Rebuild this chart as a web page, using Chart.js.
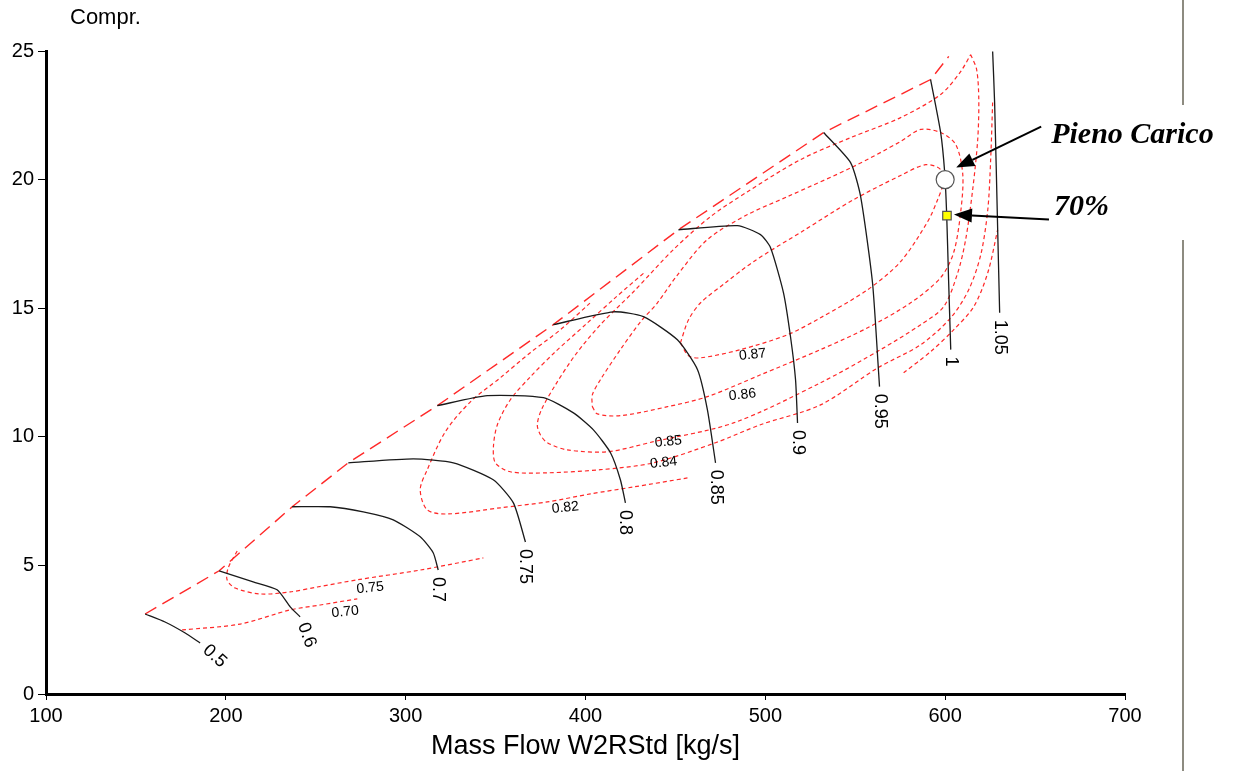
<!DOCTYPE html>
<html>
<head>
<meta charset="utf-8">
<script src="https://cdn.jsdelivr.net/npm/chart.js@4.4.1/dist/chart.umd.min.js"></script>
<style>
  html, body { margin: 0; padding: 0; background: #fff; overflow: hidden; }
  #wrap { position: relative; width: 1242px; height: 771px; }
  canvas { position: absolute; left: 0; top: 0; }
  .rule { position: absolute; left: 1182px; width: 2px; background: #8d8b80; }
</style>
</head>
<body>
<div id="wrap">
  <canvas id="mapChart" width="1242" height="771"></canvas>
  <div class="rule" style="top:0;height:105px"></div>
  <div class="rule" style="top:240px;height:531px"></div>
</div>
<script>
// axis ranges
const massFlowRange = [100, 700];
const comprRange = [0, 25];

// corrected speed lines [mass flow, pressure ratio]
const speedLabels = ['0.5', '0.6', '0.7', '0.75', '0.8', '0.85', '0.9', '0.95', '1', '1.05'];
const speed050 = [[155.1, 3.11], [166.2, 2.80], [177.4, 2.37], [185.7, 1.98]];
const speed060 = [[196.3, 4.79], [215.2, 4.36], [228.5, 4.05], [235.8, 3.39], [241.3, 3.00]];
const speed070 = [[236.9, 7.28], [258.0, 7.28], [276.4, 7.08], [293.1, 6.77], [308.1, 6.11], [315.3, 5.49], [318.1, 4.82]];
const speed075 = [[268.1, 8.99], [304.2, 9.14], [326.5, 8.99], [348.7, 8.33], [359.9, 7.43], [366.6, 5.91]];
const speed080 = [[317.6, 11.21], [345.4, 11.60], [376.6, 11.52], [393.3, 10.93], [404.4, 10.27], [413.9, 9.38], [419.4, 8.33], [422.2, 7.43]];
const speed085 = [[382.1, 14.36], [415.5, 14.86], [432.2, 14.67], [451.1, 13.77], [462.3, 12.61], [467.8, 11.05], [472.3, 8.99]];
const speed090 = [[451.7, 18.05], [484.5, 18.21], [497.3, 17.86], [502.9, 17.35], [510.1, 15.60], [514.0, 13.89], [516.8, 12.22], [517.9, 10.54]];
const speed095 = [[532.4, 21.83], [547.4, 20.66], [553.0, 19.34], [559.6, 15.99], [563.0, 12.49], [563.5, 11.95]];
const speed100 = [[591.9, 23.89], [597.5, 21.83], [599.7, 20.31], [600.8, 18.72], [601.9, 16.11], [603.1, 13.39]];
const speed105 = [[626.4, 24.98], [627.5, 23.00], [629.2, 18.05], [630.3, 14.82]];

// surge line
const surgeLine = [[155.1, 3.11], [196.3, 4.79], [236.9, 7.28], [268.1, 8.99], [317.6, 11.21], [382.1, 14.36],
  [451.7, 18.05], [532.4, 21.83], [591.9, 23.89], [602.0, 24.79]];

// efficiency islands
const eff070 = [[175.7, 2.49], [208.0, 2.72], [235.8, 3.27], [252.5, 3.46], [273.1, 3.70]];
const eff075 = [[206.3, 5.56], [201.3, 4.90], [200.7, 4.44], [205.2, 4.12], [219.1, 3.89], [235.8, 3.97],
  [250.8, 4.16], [273.1, 4.44], [308.1, 4.82], [343.2, 5.29]];
const eff082 = [[456.7, 8.40], [426.7, 8.05], [402.7, 7.78], [378.8, 7.47], [352.7, 7.24], [323.2, 7.00],
  [312.0, 7.16], [308.1, 7.94], [312.0, 8.72], [322.0, 10.19], [336.0, 11.36], [352.7, 12.30],
  [369.3, 13.27], [386.0, 14.16], [402.7, 15.21]];
const eff083 = [[576.9, 12.49], [591.9, 13.31], [604.7, 14.16], [615.9, 15.06], [623.7, 16.38], [629.2, 18.05]];
const eff084 = [[626.4, 23.00], [625.3, 20.78], [623.7, 18.83], [619.8, 17.08], [613.1, 15.72], [603.1, 14.63],
  [586.4, 13.58], [562.5, 12.68], [530.7, 11.24], [497.3, 10.47], [472.3, 9.77], [437.8, 8.99],
  [408.3, 8.72], [378.8, 8.60], [358.2, 8.64], [349.9, 8.99], [348.8, 9.61], [351.0, 10.47],
  [358.2, 11.44], [369.3, 12.33], [383.3, 13.31], [400.0, 14.36], [416.6, 15.41], [433.3, 16.42]];
const eff085 = [[614.2, 24.86], [617.5, 24.28], [618.7, 23.11], [618.1, 21.56], [615.3, 19.61], [611.4, 17.67],
  [607.0, 16.38], [599.2, 15.06], [586.4, 14.36], [564.1, 13.39], [530.7, 12.10], [482.3, 10.54],
  [437.8, 9.81], [412.2, 9.42], [389.9, 9.49], [378.8, 9.77], [374.9, 10.08], [373.2, 10.47],
  [375.5, 11.05], [383.3, 12.02], [394.4, 13.19], [408.3, 14.36], [426.7, 15.64], [448.9, 17.28],
  [469.5, 18.56], [490.1, 19.53], [519.6, 20.78], [547.4, 21.63], [575.2, 22.41], [597.5, 23.31],
  [608.6, 24.20], [614.2, 24.86]];
const eff086 = [[403.8, 11.17], [406.6, 10.89], [419.4, 10.82], [445.6, 11.17], [467.8, 11.56], [497.3, 12.41],
  [530.7, 13.39], [556.9, 14.24], [580.8, 15.21], [597.5, 16.19], [604.7, 17.16], [608.6, 18.72],
  [609.8, 20.19], [605.9, 21.36], [597.5, 21.83], [586.4, 21.95], [575.2, 21.48], [549.1, 20.51],
  [512.4, 19.34], [490.1, 18.64], [467.8, 17.67], [451.2, 16.30], [440.0, 15.21], [430.6, 14.47],
  [419.4, 13.39], [408.3, 12.22], [403.8, 11.63], [403.8, 11.17]];
const eff087 = [[452.8, 13.66], [457.3, 14.55], [464.0, 15.21], [477.9, 15.99], [493.4, 16.81], [521.3, 18.02],
  [549.1, 19.22], [575.2, 20.16], [589.2, 20.58], [597.5, 20.39], [598.6, 19.81], [595.8, 19.22],
  [590.3, 18.37], [575.2, 16.81], [556.9, 15.72], [530.7, 14.63], [512.4, 13.97], [486.2, 13.39],
  [464.0, 13.07], [457.3, 13.15], [452.8, 13.66]];

// efficiency labels
const effLabels = ['0.70', '0.75', '0.82', '0.84', '0.85', '0.86', '0.87'];
const effLabelX = [266.4, 280.3, 388.8, 443.4, 446.1, 487.3, 492.9];
const effLabelY = [3.19, 4.12, 7.24, 8.99, 9.81, 11.63, 13.19];

// operating points
const pienoCarico = [600.0, 20.0];
const carico70 = [601.0, 18.6];

const speedLines = [speed050, speed060, speed070, speed075, speed080, speed085, speed090, speed095, speed100, speed105];
const effLines = [eff070, eff075, eff082, eff083, eff084, eff085, eff086, eff087];
const speedAngles = [42, 70, 90, 90, 90, 90, 90, 90, 90, 90];

const toXY = arr => arr.map(p => ({ x: p[0], y: p[1] }));
const FONT = '"Liberation Sans", Arial, sans-serif';
const RED = 'rgb(255,40,40)';

const datasets = [];
datasets.push({
  data: toXY([pienoCarico]), pointStyle: 'circle', pointRadius: 9,
  pointBackgroundColor: '#fff', pointBorderColor: '#555', pointBorderWidth: 1.2, showLine: false
});
datasets.push({
  data: toXY([carico70]), pointStyle: 'rect', pointRadius: 6,
  pointBackgroundColor: '#ffff00', pointBorderColor: '#555', pointBorderWidth: 1.2, showLine: false
});
speedLines.forEach(line => datasets.push({
  data: toXY(line), showLine: true, pointRadius: 0, borderColor: '#1a1a1a',
  borderWidth: 1.3, tension: 0.2, fill: false
}));
datasets.push({
  data: toXY(surgeLine), showLine: true, pointRadius: 0, borderColor: RED,
  borderWidth: 1.4, borderDash: [13, 7], tension: 0, fill: false
});
effLines.forEach(line => datasets.push({
  data: toXY(line), showLine: true, pointRadius: 0, borderColor: RED,
  borderWidth: 1.2, borderDash: [4, 3], tension: 0.3, fill: false
}));

function arrow(ctx, x0, y0, x1, y1) {
  const a = Math.atan2(y1 - y0, x1 - x0);
  const len = 18, half = 7;
  const bx = x1 - len * Math.cos(a), by = y1 - len * Math.sin(a);
  ctx.beginPath();
  ctx.moveTo(x0, y0);
  ctx.lineTo(bx, by);
  ctx.lineWidth = 2;
  ctx.strokeStyle = '#000';
  ctx.stroke();
  ctx.beginPath();
  ctx.moveTo(x1, y1);
  ctx.lineTo(bx + half * Math.sin(a), by - half * Math.cos(a));
  ctx.lineTo(bx - half * Math.sin(a), by + half * Math.cos(a));
  ctx.closePath();
  ctx.fillStyle = '#000';
  ctx.fill();
}

const mapLabels = {
  id: 'mapLabels',
  afterDatasetsDraw(chart) {
    const { ctx, scales: { x, y }, chartArea } = chart;
    ctx.save();
    ctx.fillStyle = '#000';

    // speed line labels at the end of each line
    ctx.font = '18px ' + FONT;
    ctx.textAlign = 'left';
    ctx.textBaseline = 'middle';
    speedLines.forEach((line, i) => {
      const last = line[line.length - 1];
      ctx.save();
      ctx.translate(x.getPixelForValue(last[0]), y.getPixelForValue(last[1]));
      ctx.rotate(speedAngles[i] * Math.PI / 180);
      ctx.fillText(speedLabels[i], 7, 0);
      ctx.restore();
    });

    // efficiency labels
    ctx.font = '14px ' + FONT;
    ctx.textAlign = 'center';
    effLabels.forEach((t, i) => {
      ctx.save();
      ctx.translate(x.getPixelForValue(effLabelX[i]), y.getPixelForValue(effLabelY[i]));
      ctx.rotate(-6 * Math.PI / 180);
      ctx.fillText(t, 0, 0);
      ctx.restore();
    });

    // y axis caption
    ctx.font = '22px ' + FONT;
    ctx.textAlign = 'left';
    ctx.fillText('Compr.', chartArea.left + 24, chartArea.top - 33);

    // operating point notes
    const cx = x.getPixelForValue(pienoCarico[0]), cy = y.getPixelForValue(pienoCarico[1]);
    const sx = x.getPixelForValue(carico70[0]), sy = y.getPixelForValue(carico70[1]);
    arrow(ctx, cx + 96, cy - 53, cx + 11, cy - 12);
    arrow(ctx, sx + 102, sy + 4, sx + 7, sy - 1);
    ctx.fillStyle = '#000';
    ctx.font = 'bold italic 30px "Liberation Serif", "Times New Roman", serif';
    ctx.textAlign = 'left';
    ctx.textBaseline = 'middle';
    ctx.fillText('Pieno Carico', cx + 106, cy - 44);
    ctx.fillText('70%', sx + 107, sy - 8);
    ctx.restore();
  }
};

const ctx = document.getElementById('mapChart').getContext('2d');
const chart = new Chart(ctx, {
  type: 'scatter',
  data: { datasets: datasets },
  options: {
    responsive: false,
    animation: false,
    devicePixelRatio: 1,
    layout: { padding: { top: 51, right: 117, left: 0, bottom: 0 } },
    plugins: { legend: { display: false }, tooltip: { enabled: false } },
    scales: {
      x: {
        type: 'linear',
        min: massFlowRange[0], max: massFlowRange[1],
        afterFit: s => { s.height = 77; },
        ticks: { stepSize: 100, color: '#000', font: { family: FONT, size: 20 }, padding: 4, maxRotation: 0 },
        grid: { drawOnChartArea: false, drawTicks: true, tickLength: 6, color: '#000', lineWidth: 1 },
        border: { display: true, color: '#000', width: 3 },
        title: {
          display: true, text: 'Mass Flow W2RStd [kg/s]', color: '#000',
          font: { family: FONT, size: 27 }, padding: { top: 0, bottom: 8 }
        }
      },
      y: {
        type: 'linear',
        min: comprRange[0], max: comprRange[1],
        afterFit: s => { s.width = 46; },
        ticks: { stepSize: 5, color: '#000', font: { family: FONT, size: 20 }, padding: 4 },
        grid: { drawOnChartArea: false, drawTicks: true, tickLength: 8, color: '#000', lineWidth: 1 },
        border: { display: true, color: '#000', width: 3 }
      }
    }
  },
  plugins: [mapLabels]
});
</script>
</body>
</html>
